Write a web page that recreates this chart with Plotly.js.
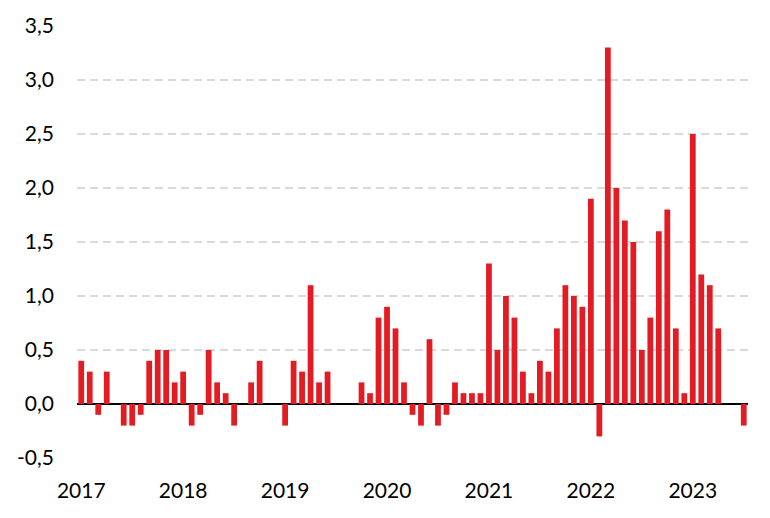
<!DOCTYPE html>
<html>
<head>
<meta charset="utf-8">
<script src="https://cdn.plot.ly/plotly-3.0.1.min.js"></script>
<style>html,body{margin:0;padding:0;background:#fff;}#chart{width:770px;height:518px;}</style>
</head>
<body>
<div id="chart"></div>
<script>
var months = [
  "2017-01","2017-02","2017-03","2017-04","2017-05","2017-06","2017-07","2017-08","2017-09","2017-10","2017-11","2017-12",
  "2018-01","2018-02","2018-03","2018-04","2018-05","2018-06","2018-07","2018-08","2018-09","2018-10","2018-11","2018-12",
  "2019-01","2019-02","2019-03","2019-04","2019-05","2019-06","2019-07","2019-08","2019-09","2019-10","2019-11","2019-12",
  "2020-01","2020-02","2020-03","2020-04","2020-05","2020-06","2020-07","2020-08","2020-09","2020-10","2020-11","2020-12",
  "2021-01","2021-02","2021-03","2021-04","2021-05","2021-06","2021-07","2021-08","2021-09","2021-10","2021-11","2021-12",
  "2022-01","2022-02","2022-03","2022-04","2022-05","2022-06","2022-07","2022-08","2022-09","2022-10","2022-11","2022-12",
  "2023-01","2023-02","2023-03","2023-04","2023-05","2023-06","2023-07"
];
var values = [
  0.4, 0.3, -0.1, 0.3, 0.0, -0.2, -0.2, -0.1, 0.4, 0.5, 0.5, 0.2,
  0.3, -0.2, -0.1, 0.5, 0.2, 0.1, -0.2, 0.0, 0.2, 0.4, 0.0, 0.0,
  -0.2, 0.4, 0.3, 1.1, 0.2, 0.3, 0.0, 0.0, 0.0, 0.2, 0.1, 0.8,
  0.9, 0.7, 0.2, -0.1, -0.2, 0.6, -0.2, -0.1, 0.2, 0.1, 0.1, 0.1,
  1.3, 0.5, 1.0, 0.8, 0.3, 0.1, 0.4, 0.3, 0.7, 1.1, 1.0, 0.9,
  1.9, -0.3, 3.3, 2.0, 1.7, 1.5, 0.5, 0.8, 1.6, 1.8, 0.7, 0.1,
  2.5, 1.2, 1.1, 0.7, 0.0, 0.0, -0.2
];
var tickMonths = ["2017-01","2018-01","2019-01","2020-01","2021-01","2022-01","2023-01"];
var tickYears = ["2017","2018","2019","2020","2021","2022","2023"];
var yTicks = [-0.5, 0, 0.5, 1, 1.5, 2, 2.5, 3, 3.5];
var yTickLabels = ["-0,5","0,0","0,5","1,0","1,5","2,0","2,5","3,0","3,5"];

var trace = {
  type: 'bar',
  x: months,
  y: values,
  marker: {color: '#e31c23', line: {width: 0}},
  hoverinfo: 'x+y'
};

var layout = {
  width: 770,
  height: 518,
  margin: {l: 76.5, r: 22, t: 26, b: 60, pad: 0},
  paper_bgcolor: '#ffffff',
  plot_bgcolor: '#ffffff',
  separators: ', ',
  showlegend: false,
  bargap: 0.32,
  font: {family: 'Lato, "Open Sans", sans-serif', size: 21, color: '#000000'},
  xaxis: {
    type: 'category',
    range: [-0.5, 78.5],
    tickmode: 'array',
    tickvals: tickMonths,
    ticktext: tickYears,
    showgrid: false,
    zeroline: false,
    showline: false,
    ticks: '',
    ticklabelstandoff: 18,
    tickfont: {family: 'Lato, "Open Sans", sans-serif', size: 21, color: '#000000'}
  },
  yaxis: {
    range: [-0.5, 3.5],
    tickmode: 'array',
    tickvals: yTicks,
    ticktext: yTickLabels,
    showgrid: true,
    gridcolor: '#d9d9d9',
    gridwidth: 2,
    griddash: '8px,5px',
    zeroline: true,
    zerolinecolor: '#000000',
    zerolinewidth: 2,
    showline: false,
    ticks: '',
    ticklabelstandoff: 22,
    tickfont: {family: 'Lato, "Open Sans", sans-serif', size: 21, color: '#000000'}
  }
};

Plotly.newPlot('chart', [trace], layout, {staticPlot: true, displayModeBar: false});
</script>
</body>
</html>
